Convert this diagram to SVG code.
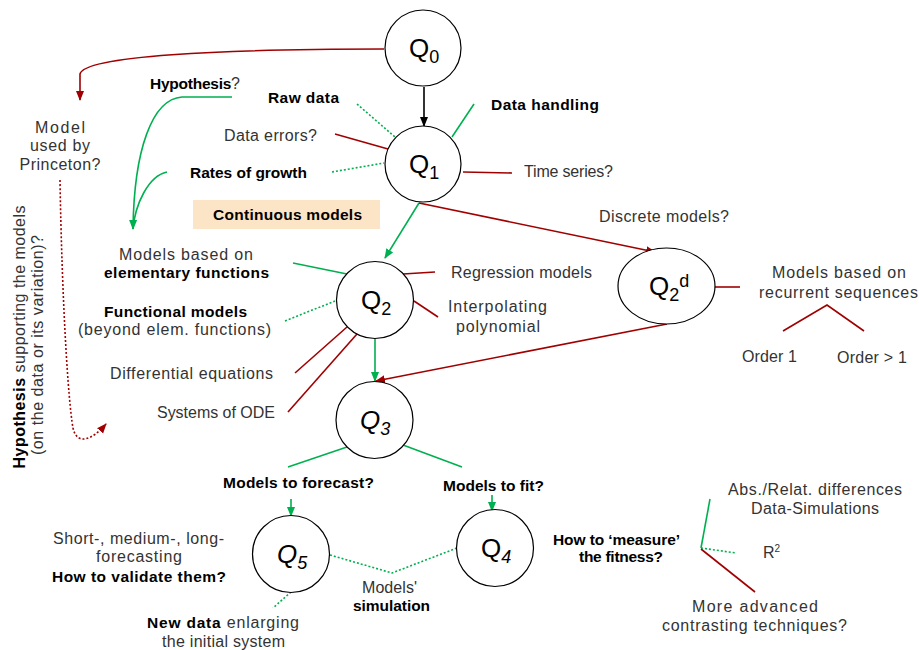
<svg xmlns="http://www.w3.org/2000/svg" width="919" height="650" viewBox="0 0 919 650">
<style>
.node{fill:#fff;stroke:#000;stroke-width:1.2}
.q{font-family:"Liberation Sans",Arial,sans-serif;font-size:26px;fill:#000}
.qs{font-size:18px}
.t{font-family:"Liberation Sans",Arial,sans-serif;font-size:16px;fill:#333}
.b{font-family:"Liberation Sans",Arial,sans-serif;font-size:15.5px;font-weight:bold;fill:#000}
.c{text-anchor:middle}
.red{stroke:#a00000;stroke-width:1.6;fill:none}
.grn{stroke:#00b050;stroke-width:1.6;fill:none}
.dot{stroke-dasharray:2,2}
.blk{stroke:#000;stroke-width:1.6;fill:none}
</style>
<defs>
<marker id="ar" markerWidth="10" markerHeight="10" refX="9" refY="5" orient="auto" markerUnits="userSpaceOnUse"><path d="M0,1 L10,5 L0,9 Z" fill="#a00000"/></marker>
<marker id="ag" markerWidth="10" markerHeight="10" refX="9" refY="5" orient="auto" markerUnits="userSpaceOnUse"><path d="M0,1 L10,5 L0,9 Z" fill="#00b050"/></marker>
<marker id="ab" markerWidth="10" markerHeight="10" refX="9" refY="5" orient="auto" markerUnits="userSpaceOnUse"><path d="M0,1 L10,5 L0,9 Z" fill="#000"/></marker>
</defs>

<g id="connectors">
<path class="blk" d="M424,87 L424,126" marker-end="url(#ab)"/>
<path class="red" d="M384,49 C220,49 84,56 80,74 L80,100" marker-end="url(#ar)"/>
<path class="red dot" d="M60,180 C62,300 68,400 73,428 C77,446 92,440 106,424" marker-end="url(#ar)"/>
<path class="grn" d="M232,97 L182,97 C152,99 134,150 133,229" marker-end="url(#ag)"/>
<path class="grn" d="M167,172 C148,176 135,205 133,229"/>
<line class="grn dot" x1="357" y1="104" x2="395" y2="137"/>
<line class="red" x1="335" y1="134" x2="388" y2="149"/>
<line class="grn dot" x1="332" y1="172" x2="384" y2="163"/>
<line class="grn" x1="452" y1="137" x2="474" y2="104"/>
<line class="red" x1="463" y1="172" x2="512" y2="173"/>
<path class="grn" d="M419,203 L385,258" marker-end="url(#ag)"/>
<path class="red" d="M419,203 L655,252" marker-end="url(#ar)"/>
<line class="grn" x1="293" y1="263" x2="347" y2="274"/>
<line class="grn dot" x1="285" y1="321" x2="335" y2="301"/>
<line class="red" x1="295" y1="373" x2="347" y2="327"/>
<line class="red" x1="288" y1="412" x2="357" y2="334"/>
<line class="red" x1="403" y1="274" x2="435" y2="272"/>
<line class="red" x1="414" y1="301" x2="438" y2="317"/>
<line class="red" x1="713" y1="287" x2="740" y2="287"/>
<path class="red" d="M783,331 L827,305 L864,331"/>
<path class="grn" d="M375,338 L375,381" marker-end="url(#ag)"/>
<path class="red" d="M667,324 L376,381" marker-end="url(#ar)"/>
<line class="grn" x1="347" y1="447" x2="288" y2="467"/>
<line class="grn" x1="403" y1="445" x2="462" y2="467"/>
<path class="grn" d="M291,499 L291,516" marker-end="url(#ag)"/>
<path class="grn" d="M492,495 L492,511" marker-end="url(#ag)"/>
<line class="grn dot" x1="291" y1="592" x2="273" y2="608"/>
<path class="grn dot" d="M330,555 L392,573 L457,548"/>
<line class="grn" x1="701" y1="548" x2="710" y2="499"/>
<line class="grn dot" x1="701" y1="548" x2="736" y2="553"/>
<line class="red" x1="701" y1="549" x2="755" y2="592"/>
</g>

<g id="Q0"><circle class="node" cx="423" cy="48" r="38"/><text class="q" x="409" y="57">Q<tspan class="qs" dy="6">0</tspan></text></g>
<g id="Q1"><circle class="node" cx="423" cy="164" r="38"/><text class="q" x="409" y="173">Q<tspan class="qs" dy="6">1</tspan></text></g>
<g id="Q2"><circle class="node" cx="375" cy="300" r="38.5"/><text class="q" x="361" y="309">Q<tspan class="qs" dy="6">2</tspan></text></g>
<g id="Q2d"><ellipse class="node" cx="666.5" cy="286" rx="48.5" ry="38"/><text class="q" x="649" y="295">Q<tspan class="qs" dy="6">2</tspan><tspan class="qs" dy="-14">d</tspan></text></g>
<g id="Q3"><circle class="node" cx="374.5" cy="420" r="38.5"/><text class="q" x="360" y="429" font-style="italic">Q<tspan class="qs" dy="6">3</tspan></text></g>
<g id="Q4"><circle class="node" cx="495" cy="548" r="38.5"/><text class="q" x="481" y="557">Q<tspan class="qs" dy="6" font-style="italic">4</tspan></text></g>
<g id="Q5"><circle class="node" cx="291" cy="554" r="38.5"/><text class="q" x="277" y="563" font-style="italic">Q<tspan class="qs" dy="6">5</tspan></text></g>

<g id="labels">
<text class="t c" x="60" y="133" textLength="50">Model</text>
<text class="t c" x="60" y="151" textLength="60">used by</text>
<text class="t c" x="60" y="170" textLength="81">Princeton?</text>
<text class="t c" transform="translate(25,337) rotate(-90)" textLength="263"><tspan class="b" style="font-size:16px">Hypothesis</tspan> supporting the models</text>
<text class="t c" transform="translate(43,345) rotate(-90)" textLength="220">(on the data or its variation)?</text>
<text class="b" x="150" y="89" textLength="90">Hypothesis<tspan class="t" style="font-weight:normal">?</tspan></text>
<text class="b" x="268" y="103" textLength="71">Raw data</text>
<text class="t" x="224" y="141" textLength="93">Data errors?</text>
<text class="b" x="190" y="178" textLength="117">Rates of growth</text>
<rect x="193" y="200" width="187" height="29" fill="#fce4c6"/>
<text class="b c" x="287.5" y="220" textLength="149">Continuous models</text>
<text class="b" x="491" y="110" textLength="108">Data handling</text>
<text class="t" x="524" y="177" textLength="89">Time series?</text>
<text class="t" x="599" y="222" textLength="130">Discrete models?</text>
<text class="t c" x="186" y="260" textLength="134">Models based on</text>
<text class="b c" x="186.5" y="278" textLength="165">elementary functions</text>
<text class="b c" x="175.5" y="317" textLength="143">Functional models</text>
<text class="t c" x="174.5" y="335" textLength="193">(beyond elem. functions)</text>
<text class="t" x="273" y="379" text-anchor="end" textLength="163">Differential equations</text>
<text class="t" x="275" y="418" text-anchor="end" textLength="118">Systems of ODE</text>
<text class="t" x="451" y="278" textLength="141">Regression models</text>
<text class="t c" x="497.5" y="312" textLength="99">Interpolating</text>
<text class="t c" x="498" y="332" textLength="84">polynomial</text>
<text class="t c" x="839" y="278" textLength="134">Models based on</text>
<text class="t c" x="838.5" y="298" textLength="159">recurrent sequences</text>
<text class="t c" x="769.5" y="362" textLength="55">Order 1</text>
<text class="t c" x="872" y="363" textLength="70">Order &gt; 1</text>
<text class="b c" x="298.5" y="488" textLength="151">Models to forecast?</text>
<text class="b c" x="493.5" y="491" textLength="101">Models to fit?</text>
<text class="t c" x="138.5" y="544" textLength="171">Short-, medium-, long-</text>
<text class="t c" x="139" y="562" textLength="86">forecasting</text>
<text class="b c" x="139" y="582" textLength="174">How to validate them?</text>
<text class="t c" x="223" y="628" textLength="152"><tspan class="b">New data</tspan> enlarging</text>
<text class="t c" x="223.5" y="647" textLength="123">the initial system</text>
<text class="t c" x="389.5" y="593" textLength="55">Models'</text>
<text class="b c" x="391.5" y="611" textLength="77">simulation</text>
<text class="b c" x="616.5" y="545" textLength="127">How to ‘measure’</text>
<text class="b c" x="621" y="562" textLength="84">the fitness?</text>
<text class="t c" x="815" y="495" textLength="174">Abs./Relat. differences</text>
<text class="t c" x="815" y="514" textLength="128">Data-Simulations</text>
<text class="t" x="763" y="558">R<tspan font-size="10" dy="-6">2</tspan></text>
<text class="t c" x="755" y="612" textLength="126">More advanced</text>
<text class="t c" x="754.5" y="631" textLength="185">contrasting techniques?</text>
</g>
</svg>
